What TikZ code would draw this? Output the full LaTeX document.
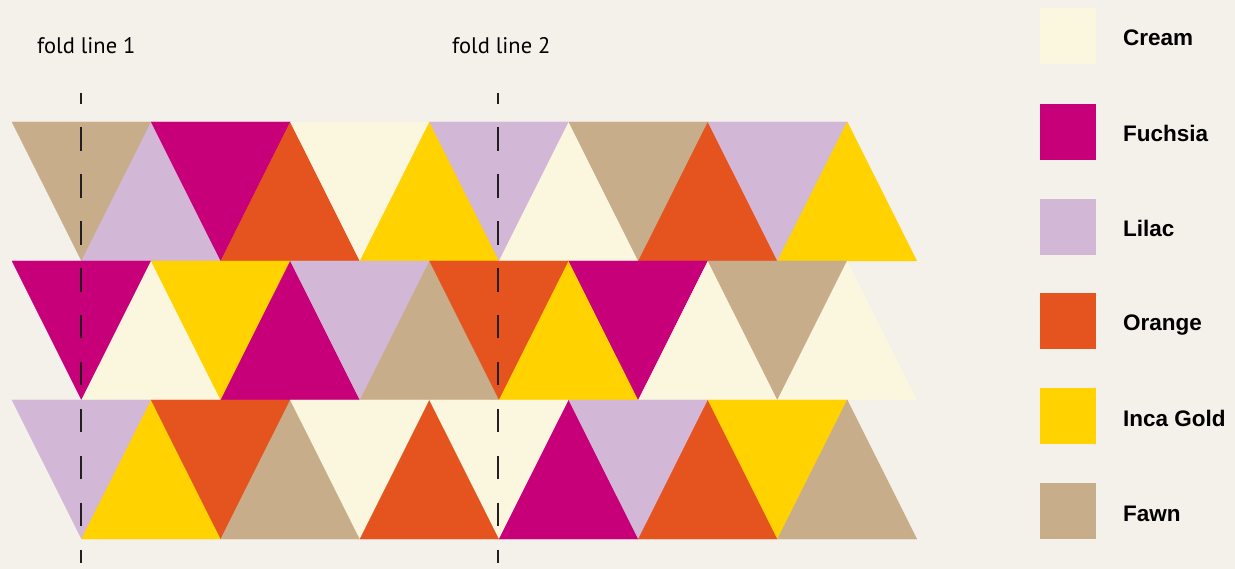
\documentclass[tikz,border=0pt]{standalone}
\usepackage{fontspec}
\setmainfont{PT Sans}
\newfontfamily\legendfont{Liberation Sans}
\definecolor{bgcol}{HTML}{F4F0EA}
\definecolor{cream}{HTML}{FBF7DE}
\definecolor{fuchsia}{HTML}{C7007A}
\definecolor{lilac}{HTML}{D3B7D6}
\definecolor{orange}{HTML}{E5541F}
\definecolor{gold}{HTML}{FFD200}
\definecolor{fawn}{HTML}{C8AD8A}
\definecolor{dashcol}{HTML}{231F20}
\newcommand{\trirow}[2]{%
  \foreach \c [count=\k from 0] in {#2} {%
    \pgfmathsetmacro{\xa}{12+\k*69.6}%
    \pgfmathsetmacro{\xb}{\xa+69.6}%
    \pgfmathsetmacro{\xc}{\xa+139.2}%
    \ifodd\k
      \fill[tri=\c] (\xa,#1+139) -- (\xc,#1+139) -- (\xb,#1) -- cycle;
    \else
      \fill[tri=\c] (\xa,#1) -- (\xc,#1) -- (\xb,#1+139) -- cycle;
    \fi
  }}
\begin{document}
\begin{tikzpicture}[x=1pt,y=-1pt,
  tri/.style={fill=#1,draw=#1,line width=0.3pt,line join=round},
  foldline/.style={draw=dashcol,line width=2.8pt,dash pattern=on 23.5pt off 23.4pt,dash phase=12.2pt},
  foldlabel/.style={anchor=base west,inner sep=0pt,font=\fontsize{22.5}{26}\selectfont},
  swatch/.style={minimum size=56pt,inner sep=0pt,outer sep=0pt,fill=#1},
  legendlabel/.style={anchor=base west,inner sep=0pt,font=\legendfont\bfseries\fontsize{22.5}{26}\selectfont}]
\fill[bgcol] (0,0) rectangle (1235,569);
\useasboundingbox (0,0) rectangle (1235,569);
% triangle rows
\trirow{122}{fawn,lilac,fuchsia,orange,cream,gold,lilac,cream,fawn,orange,lilac,gold}
\trirow{261}{fuchsia,cream,gold,fuchsia,lilac,fawn,orange,gold,fuchsia,cream,fawn,cream}
\trirow{400}{lilac,gold,orange,fawn,cream,orange,cream,fuchsia,lilac,orange,gold,fawn}
% fold lines
\coordinate (f1top) at (81,92.7);
\coordinate (f1bot) at (81,563);
\coordinate (f2top) at (498,92.7);
\coordinate (f2bot) at (498,563);
\draw[foldline] (f1top) -- (f1bot);
\draw[foldline] (f2top) -- (f2bot);
\node[foldlabel] (fl1) at (37,54) {fold line 1};
\node[foldlabel] (fl2) at (452,54) {fold line 2};
% legend
\node[swatch=cream]   (s1) at (1067.5,36)  {};
\node[swatch=fuchsia] (s2) at (1067.5,132) {};
\node[swatch=lilac]   (s3) at (1067.5,227) {};
\node[swatch=orange]  (s4) at (1067.5,321) {};
\node[swatch=gold]    (s5) at (1067.5,416) {};
\node[swatch=fawn]    (s6) at (1067.5,511) {};
\node[legendlabel] (l1) at (1123,46)  {Cream};
\node[legendlabel] (l2) at (1123,142) {Fuchsia};
\node[legendlabel] (l3) at (1123,237) {Lilac};
\node[legendlabel] (l4) at (1123,331) {Orange};
\node[legendlabel] (l5) at (1123,426) {Inca Gold};
\node[legendlabel] (l6) at (1123,521) {Fawn};
\end{tikzpicture}
\end{document}
